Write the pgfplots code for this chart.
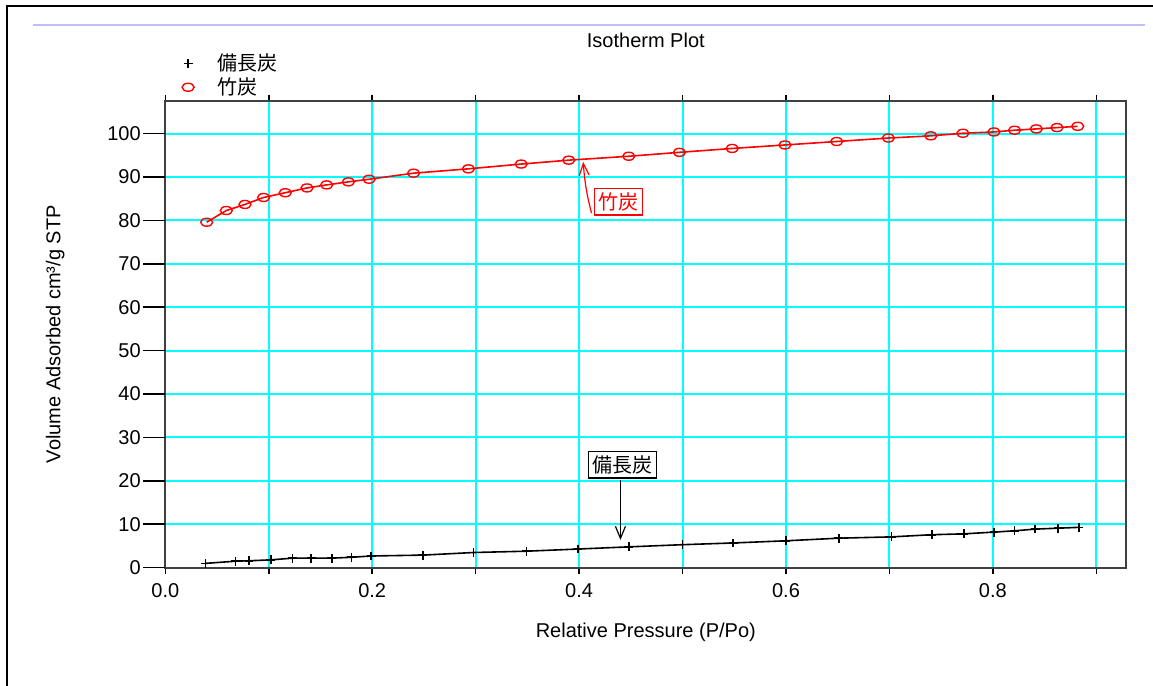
\documentclass[border=0pt]{standalone}
\usepackage{pgfplots}
\pgfplotsset{compat=1.18}
\usepackage{fontspec}
\setmainfont{Liberation Sans}
\newfontfamily\jp{Noto Sans CJK JP}
\usetikzlibrary{arrows.meta}

\definecolor{gridcyan}{RGB}{0,255,255}
\definecolor{axisgray}{RGB}{64,64,64}
\definecolor{lav}{RGB}{190,190,255}

% 1 px of the reference = 0.5pt
\begin{document}
\begin{tikzpicture}
\path[use as bounding box] (0,0) rectangle (576.5pt,343pt);
\draw[line width=1pt] (3.5pt,0) -- (3.5pt,340pt) -- (576.5pt,340pt);
\draw[lav, line width=0.7pt] (16.5pt,330.5pt) -- (572.5pt,330.5pt);

\begin{axis}[
  at={(82.65pt,59.15pt)}, anchor=south west,
  scale only axis, width=480.5pt, height=233.5pt,
  xmin=0, xmax=0.929, ymin=0, ymax=107.6,
  font=\fontsize{10}{12}\selectfont,
  /pgf/number format/assume math mode=true,
  xtick={0,0.1,0.2,0.3,0.4,0.5,0.6,0.7,0.8,0.9},
  xticklabels={0.0,,0.2,,0.4,,0.6,,0.8,},
  ytick={0,10,...,100},
  grid=major,
  major grid style={gridcyan, line width=1pt},
  axis line style={axisgray, line width=1pt},
  tick align=outside, major tick length=3pt,
  x tick style={black, line width=0.8pt},
  y tick style={draw=none},
  yticklabel style={xshift=-5.8pt},
  xticklabel style={yshift=-1.5pt},
  title={Isotherm Plot},
  title style={at={(axis description cs:0.5,1.104)}, anchor=center},
  xlabel={Relative Pressure (P/Po)},
  xlabel style={at={(axis description cs:0.5,-0.1377)}, anchor=center},
  ylabel={Volume Adsorbed cm³/g STP},
  ylabel style={at={(axis description cs:-0.1145,0.5)}, anchor=center},
  legend style={draw=none, fill=none, at={(axis description cs:0.0,1.119)},
    anchor=north west, font=\fontsize{10}{12}\selectfont, row sep=-2pt},
  legend cell align=left,
  legend image code/.code={\path[draw=none] (0pt,0pt) -- (20.7pt,0pt);
    \draw[#1, /tikz/only marks] plot coordinates {(8.2pt,0pt)};},
  clip=false,
]
\pgfplotsinvokeforeach{0,10,...,100}{
  \draw[black, line width=0.8pt] (axis cs:0,#1) -- ++(-11pt,0pt);
}

\addplot[black, line width=0.8pt, mark=+, mark size=2.2pt,
  mark options={line width=0.8pt}] coordinates {
(0.039,1.0) (0.068,1.5) (0.081,1.6) (0.102,1.8) (0.123,2.2) (0.141,2.2)
(0.161,2.2) (0.180,2.4) (0.199,2.7) (0.249,2.9) (0.298,3.5) (0.349,3.8)
(0.399,4.3) (0.448,4.8) (0.500,5.3) (0.549,5.7) (0.600,6.2) (0.651,6.8)
(0.702,7.1) (0.741,7.6) (0.772,7.8) (0.801,8.2) (0.821,8.5) (0.841,8.9)
(0.863,9.1) (0.883,9.3)
};
\addlegendentry{{\jp 備長炭}}

\addplot[red, line width=0.8pt, mark=o, mark size=2pt,
  mark options={xscale=1.5, line width=0.7pt}] coordinates {
(0.040,79.6) (0.059,82.3) (0.077,83.7) (0.095,85.3) (0.116,86.4) (0.137,87.5)
(0.156,88.2) (0.177,88.9) (0.197,89.5) (0.240,90.9) (0.293,91.9) (0.344,93.0)
(0.390,93.9) (0.448,94.8) (0.497,95.7) (0.548,96.6) (0.599,97.4) (0.649,98.2)
(0.699,99.0) (0.740,99.5) (0.771,100.1) (0.801,100.4) (0.821,100.8) (0.842,101.1)
(0.862,101.4) (0.882,101.7)
};
\addlegendentry{{\jp 竹炭}}

% annotations
\node[draw=red, text=red, line width=0.6pt, inner sep=2pt, font=\jp\fontsize{10}{12}\selectfont]
  at (axis cs:0.438,84.3) {竹炭};
\draw[red, line width=0.6pt, -{Straight Barb[length=6pt,width=5pt]}]
  (axis cs:0.412,81.7) to[bend left=5] (axis cs:0.404,93.5);
\node[draw=black, line width=0.6pt, fill=white, inner sep=2pt, font=\jp\fontsize{10}{12}\selectfont]
  at (axis cs:0.442,23.7) {備長炭};
\draw[black, line width=0.6pt, -{Straight Barb[length=6pt,width=5pt]}]
  (axis cs:0.440,20.2) -- (axis cs:0.440,6.4);
\end{axis}
\end{tikzpicture}
\end{document}
